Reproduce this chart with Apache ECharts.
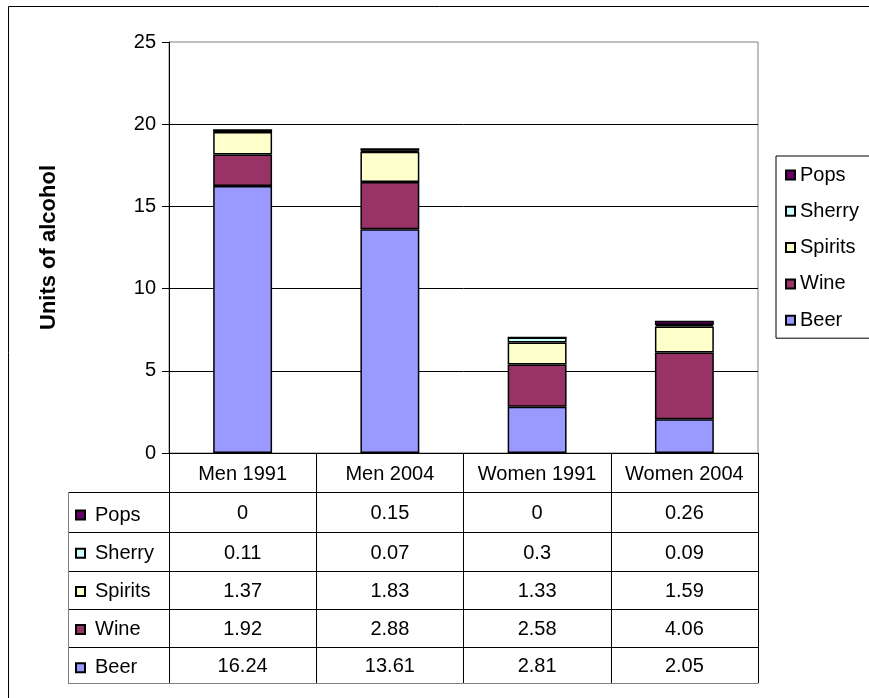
<!DOCTYPE html>
<html>
<head>
<meta charset="utf-8">
<script src="https://cdn.jsdelivr.net/npm/echarts@6/dist/echarts.min.js"></script>
<style>
  html, body { margin: 0; padding: 0; background: #fff; }
  #chart { width: 869px; height: 698px; }
</style>
</head>
<body>
<div id="chart"></div>
<script>
// Average weekly units of alcohol by drink type
const categories = ['Men 1991', 'Men 2004', 'Women 1991', 'Women 2004'];
const beer    = [16.24, 13.61, 2.81, 2.05];
const wine    = [1.92, 2.88, 2.58, 4.06];
const spirits = [1.37, 1.83, 1.33, 1.59];
const sherry  = [0.11, 0.07, 0.3, 0.09];
const pops    = [0, 0.15, 0, 0.26];
const yMin = 0, yMax = 25, yStep = 5;

const FONT = "'Liberation Sans', Arial, sans-serif";
const FS = 20;
const LH = 22;

// stacked from the bottom up
const seriesDefs = [
  { name: 'Beer',    data: beer,    color: '#9999FF' },
  { name: 'Wine',    data: wine,    color: '#993366' },
  { name: 'Spirits', data: spirits, color: '#FFFFCC' },
  { name: 'Sherry',  data: sherry,  color: '#CCFFFF' },
  { name: 'Pops',    data: pops,    color: '#660066' }
];
// table / legend rows run from the top of the stack down
const rowDefs = seriesDefs.slice().reverse();
const rowNames = rowDefs.map(s => s.name);

// layout
const gridLeft = 169, gridTop = 42, gridRight = 111, gridBottom = 245;
const axisY = 453;                       // pixel y of the category axis
const rowLines = [492, 532, 571, 609, 647, 683];
const tableLeft = 68;

const chart = echarts.init(document.getElementById('chart'), null, { renderer: 'canvas' });

const cellLabel = (h) => ({
  interval: 0, color: '#000', fontFamily: FONT, fontSize: FS, lineHeight: LH,
  margin: h / 2 - LH / 2 + 1.5
});

const xAxes = [{
  type: 'category',
  data: categories,
  gridIndex: 0,
  position: 'bottom',
  axisLine: { show: true, lineStyle: { color: '#000', width: 1 } },
  axisTick: { show: true, length: rowLines[0] - axisY, interval: 0, lineStyle: { color: '#000' } },
  axisLabel: cellLabel(rowLines[0] - axisY)
}];

rowDefs.forEach((s, i) => {
  const top = rowLines[i], bottom = rowLines[i + 1];
  xAxes.push({
    type: 'category',
    data: categories,
    gridIndex: 0,
    position: 'bottom',
    offset: top - axisY,
    axisLine: { show: true, lineStyle: { color: '#000', width: 1 } },
    axisTick: { show: true, length: bottom - top, interval: 0, lineStyle: { color: '#000' } },
    axisLabel: Object.assign(cellLabel(bottom - top), {
      formatter: (v, idx) => String(s.data[idx])
    }),
    splitLine: { show: false }
  });
});

// closing line under the table
xAxes.push({
  type: 'category',
  data: categories,
  gridIndex: 0,
  position: 'bottom',
  offset: rowLines[rowLines.length - 1] - axisY,
  axisLine: { show: true, lineStyle: { color: '#808080', width: 1 } },
  axisTick: { show: false },
  axisLabel: { show: false }
});

// left column frame of the table
const frameGraphics = [];
rowLines.forEach((y, i) => {
  frameGraphics.push({
    type: 'line', silent: true,
    shape: { x1: tableLeft, y1: y + 0.5, x2: gridLeft, y2: y + 0.5 },
    style: { stroke: i === rowLines.length - 1 ? '#808080' : '#000', lineWidth: 1 }
  });
});
frameGraphics.push({
  type: 'line', silent: true,
  shape: { x1: tableLeft + 0.5, y1: rowLines[0], x2: tableLeft + 0.5, y2: rowLines[rowLines.length - 1] + 1 },
  style: { stroke: '#808080', lineWidth: 1 }
});
// outer chart frame
frameGraphics.push({
  type: 'rect', silent: true, z: -1,
  shape: { x: 8.5, y: 6.5, width: 1000, height: 1000 },
  style: { fill: 'none', stroke: '#000', lineWidth: 1 }
});

const legendText = { color: '#000', fontFamily: FONT, fontSize: FS, lineHeight: LH };

const option = {
  animation: false,
  backgroundColor: '#fff',
  textStyle: { fontFamily: FONT },
  grid: {
    left: gridLeft, top: gridTop, right: gridRight, bottom: gridBottom,
    show: true, borderColor: '#808080', borderWidth: 1, backgroundColor: 'transparent'
  },
  legend: [
    {
      // legend box at the right
      data: rowNames,
      orient: 'vertical',
      left: 776, top: 156,
      padding: [8, 60, 7, 9],
      itemWidth: 9, itemHeight: 9, itemGap: 14.3,
      icon: 'rect',
      borderColor: '#000', borderWidth: 1,
      backgroundColor: '#fff',
      textStyle: legendText,
      selectedMode: false
    },
    {
      // row keys inside the data table
      data: rowNames,
      orient: 'vertical',
      left: 75, top: 504,
      padding: 0,
      itemWidth: 9, itemHeight: 9, itemGap: 16.2,
      icon: 'rect',
      textStyle: Object.assign({}, legendText, { padding: [0, 0, 0, 5] }),
      selectedMode: false
    }
  ],
  xAxis: xAxes,
  yAxis: {
    type: 'value',
    min: yMin, max: yMax, interval: yStep,
    name: 'Units of alcohol',
    nameLocation: 'middle',
    nameGap: 109,
    nameTextStyle: { color: '#000', fontFamily: FONT, fontSize: 22, fontWeight: 'bold' },
    axisLine: { show: true, lineStyle: { color: '#000' } },
    axisTick: { show: true, length: 7, lineStyle: { color: '#000' } },
    axisLabel: { color: '#000', fontFamily: FONT, fontSize: FS, margin: 13 },
    splitLine: { show: true, showMaxLine: false, lineStyle: { color: '#000', width: 1 } }
  },
  series: seriesDefs.map(s => ({
    name: s.name,
    type: 'bar',
    stack: 'units',
    xAxisIndex: 0,
    yAxisIndex: 0,
    barWidth: '40%',
    data: s.data,
    itemStyle: { color: s.color, borderColor: '#000', borderWidth: 1.5 },
    emphasis: { disabled: true }
  })),
  graphic: frameGraphics
};

chart.setOption(option);
</script>
</body>
</html>
